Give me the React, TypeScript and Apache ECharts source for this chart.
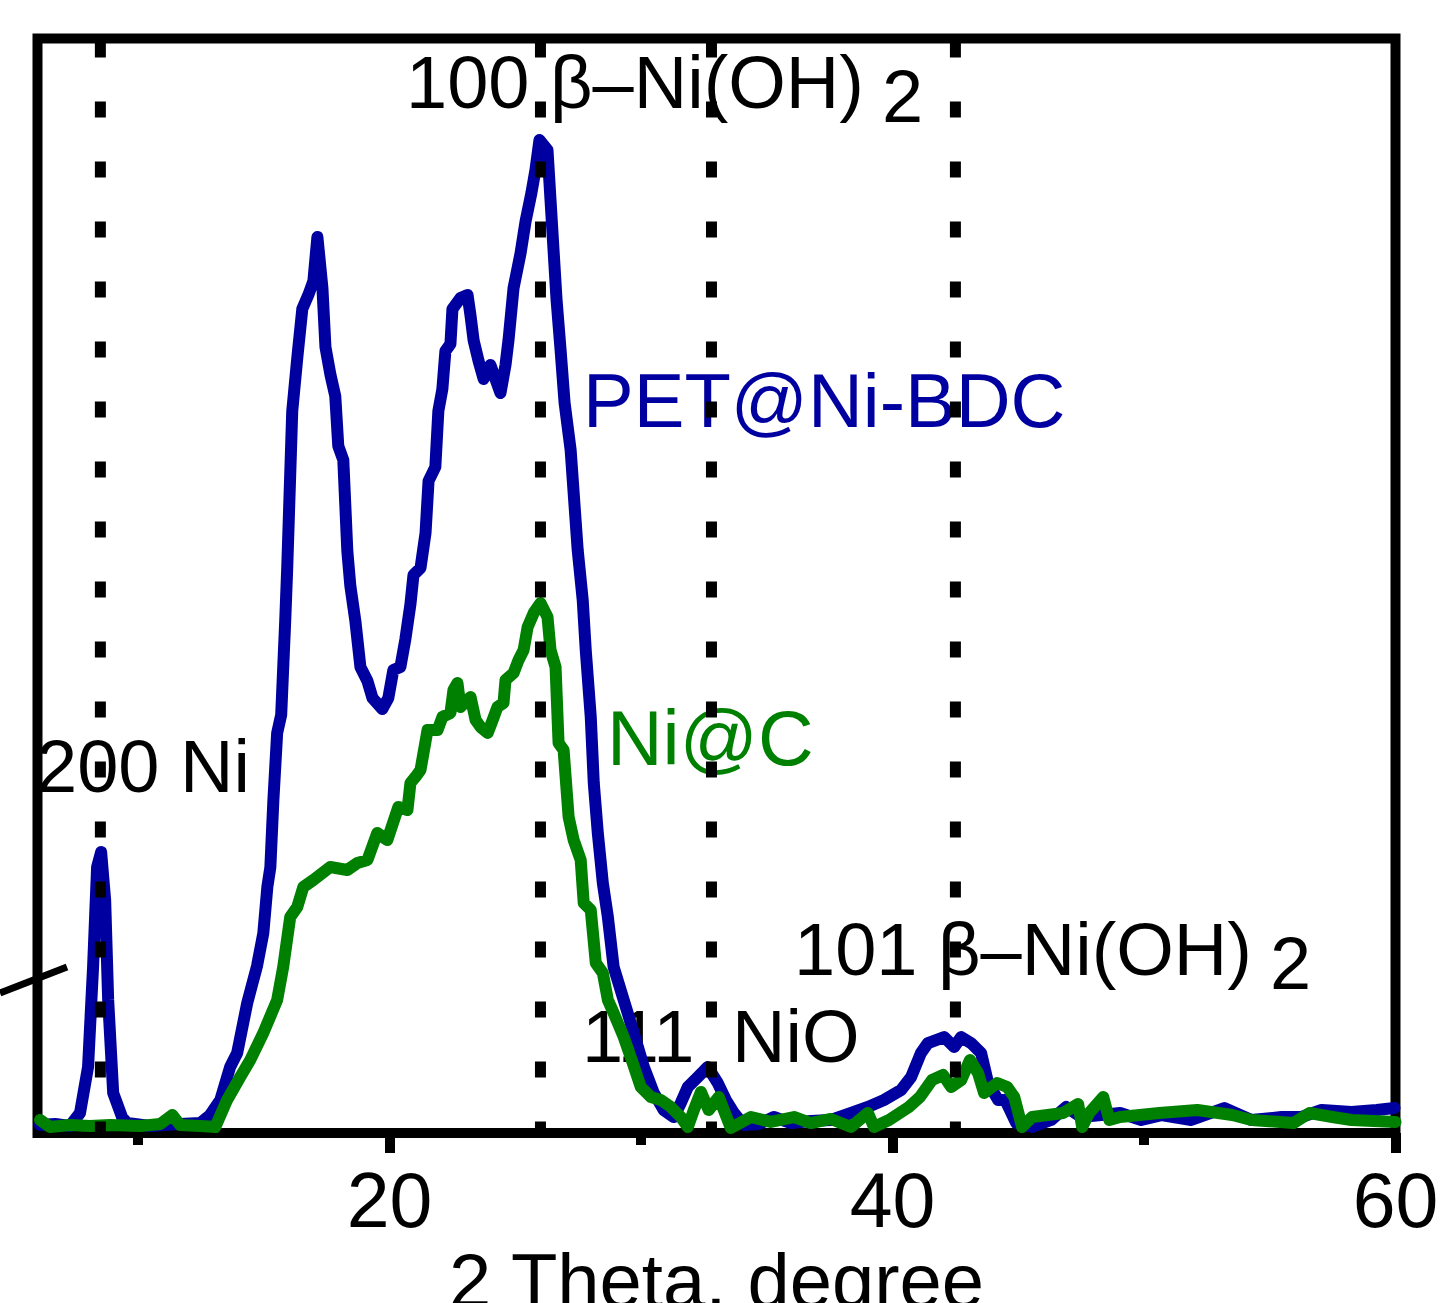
import React, { useEffect, useRef } from "react";
import * as echarts from "echarts";

// ---- data ----
const petTheta = [
  6.10, 6.70, 7.29, 7.69, 8.01, 8.21, 8.37, 8.53, 8.69, 8.81, 9.01, 9.36, 9.56, 10.48, 11.67,
  12.47, 12.86, 13.27, 13.66, 13.94, 14.34, 14.73, 14.98, 15.14, 15.26, 15.38, 15.53, 15.69,
  15.85, 15.93, 16.13, 16.33, 16.53, 16.77, 16.97, 17.13, 17.33, 17.45, 17.65, 17.84, 17.96,
  18.16, 18.32, 18.44, 18.64, 18.84, 19.12, 19.32, 19.71, 19.95, 20.15, 20.43, 20.63, 20.83,
  20.95, 21.23, 21.43, 21.55, 21.82, 21.94, 22.10, 22.22, 22.42, 22.50, 22.82, 23.10, 23.22,
  23.34, 23.54, 23.74, 24.01, 24.21, 24.41, 24.61, 24.73, 24.93, 25.21, 25.41, 25.64, 25.80,
  25.96, 26.12, 26.28, 26.40, 26.64, 26.80, 26.96, 27.20, 27.48, 27.68, 27.80, 28.00, 28.12,
  28.28, 28.48, 28.68, 28.91, 29.31, 29.71, 30.11, 30.51, 30.90, 31.30, 31.58, 31.86, 32.26,
  32.65, 33.05, 33.37, 33.69, 34.09, 34.68, 35.28, 35.96, 36.75, 37.55, 38.35, 39.02, 39.66,
  40.34, 40.74, 41.13, 41.41, 42.05, 42.45, 42.73, 43.12, 43.52, 43.80, 44.20, 44.48, 44.92,
  45.55, 46.31, 46.90, 47.50, 48.30, 49.05, 49.89, 50.69, 51.88, 53.19, 54.27, 55.47, 56.26,
  57.06, 58.25, 59.25, 59.96,
];
const petIntensity = [
  0.73, 0.82, 0.64, 1.83, 6.03, 15.17, 24.30, 25.67, 21.29, 12.15, 3.65, 1.46, 0.91, 0.64, 0.82,
  0.91, 1.64, 3.02, 6.03, 7.31, 11.88, 15.26, 18.27, 22.48, 24.30, 30.42, 36.55, 38.20,
  46.78, 51.62, 65.97, 70.81, 75.29, 76.57, 77.84, 81.86, 77.20, 71.81, 69.26, 67.34, 62.77,
  61.49, 53.18, 49.98, 46.78, 42.58, 41.30, 39.74, 38.74, 39.74, 42.30, 42.58, 45.14, 48.33,
  50.98, 51.62, 54.82, 59.57, 60.85, 65.97, 67.98, 71.45, 72.09, 75.29, 76.29, 76.57, 74.65,
  72.45, 70.53, 68.89, 70.17, 68.89, 67.61, 70.17, 72.45, 77.20, 80.40, 83.33, 85.88, 87.99,
  90.73, 90.27, 89.81, 85.24, 76.11, 71.54, 66.70, 62.40, 53.27, 48.70, 44.13, 38.01, 31.98,
  27.41, 22.84, 19.74, 15.17, 12.15, 9.14, 6.03, 3.65, 2.10, 1.46, 2.74, 4.20, 5.12,
  6.03, 4.57, 3.02, 1.83, 0.73, 0.82, 1.46, 0.91, 1.10, 1.19, 1.83, 2.38, 3.02,
  3.93, 5.12, 7.31, 8.22, 8.77, 7.86, 8.77, 8.22, 7.31, 4.57, 3.02, 3.02, 0.91,
  0.55, 1.19, 2.38, 1.46, 1.64, 1.83, 1.19, 1.64, 1.19, 2.28, 1.19, 1.46, 1.46,
  2.10, 1.92, 2.10, 2.28,
];

const nicTheta = [
  6.10, 6.49, 7.29, 8.09, 8.89, 10.08, 10.88, 11.36, 11.67, 12.47, 13.07, 13.54, 14.06, 14.46,
  14.98, 15.53, 15.77, 16.05, 16.33, 16.57, 16.97, 17.64, 18.32, 18.72, 19.12, 19.51, 19.91,
  20.35, 20.71, 20.83, 21.03, 21.23, 21.51, 21.91, 22.10, 22.42, 22.54, 22.70, 22.82, 23.22,
  23.42, 23.62, 23.90, 24.10, 24.29, 24.53, 24.61, 24.93, 25.13, 25.33, 25.49, 25.73, 26.00,
  26.28, 26.40, 26.60, 26.72, 26.92, 27.12, 27.32, 27.60, 27.72, 28.00, 28.20, 28.48, 28.68,
  28.91, 29.31, 29.67, 29.99, 30.39, 30.78, 31.18, 31.58, 31.86, 32.10, 32.38, 32.69, 33.09,
  33.57, 34.37, 35.16, 36.08, 36.75, 37.55, 38.35, 39.02, 39.26, 39.86, 40.65, 41.09, 41.57,
  42.01, 42.33, 42.73, 43.08, 43.40, 43.64, 44.16, 44.56, 44.84, 45.15, 45.55, 46.79, 47.38,
  47.54, 47.82, 48.38, 48.62, 49.05, 50.61, 52.12, 53.51, 54.27, 55.94, 56.58, 57.49, 58.25,
  60.00,
];
const nicIntensity = [
  1.19, 0.55, 0.73, 0.64, 0.73, 0.64, 0.82, 1.64, 0.73, 0.64, 0.55, 3.02, 5.12, 6.67,
  9.14, 12.15, 15.17, 19.74, 20.65, 22.48, 23.12, 24.30, 24.03, 24.67, 24.94, 27.41, 26.77,
  29.79, 29.51, 31.98, 32.53, 33.17, 36.82, 36.82, 38.01, 38.37, 40.47, 41.11, 38.92, 39.84,
  37.73, 37.09, 36.55, 37.73, 38.92, 39.29, 41.39, 42.03, 43.22, 44.13, 46.23, 47.51, 48.42,
  47.14, 44.13, 42.58, 35.63, 34.99, 28.87, 26.77, 24.94, 21.01, 20.37, 15.53, 14.62, 12.15,
  10.96, 8.77, 6.40, 4.20, 3.29, 3.02, 2.38, 1.46, 0.55, 2.10, 3.75, 2.10, 3.29,
  0.46, 1.46, 1.01, 1.46, 0.91, 1.28, 0.55, 1.83, 0.55, 1.19, 2.38, 3.29, 4.84,
  5.30, 4.20, 4.84, 6.67, 5.48, 3.65, 4.57, 4.20, 3.29, 0.55, 1.46, 1.83, 2.65,
  0.55, 1.83, 3.29, 1.19, 1.46, 1.83, 2.10, 1.64, 1.19, 0.91, 1.83, 1.46, 1.19,
  1.01,
];

const referenceTheta = [8.5, 26.0, 32.8, 42.5];
const majorTickValues = [20, 40, 60];
const minorTickValues = [10, 30, 50];

const FONT = "'Liberation Sans', Arial, Helvetica, sans-serif";
const BLUE = "#0000A0";
const GREEN = "#008000";

function label(text: string, x: number, baseline: number, color: string, size = 74) {
  return {
    type: "text",
    x,
    y: baseline - 0.3465 * size,
    z: 1,
    silent: true,
    style: {
      text,
      fill: color,
      font: `${size}px ${FONT}`,
      fontSize: size,
      fontFamily: FONT,
      align: "left",
      verticalAlign: "middle",
      textAlign: "left",
      textVerticalAlign: "middle",
    },
  };
}

export default function App() {
  const ref = useRef<HTMLDivElement>(null);

  useEffect(() => {
    if (!ref.current) return;
    const chart = echarts.init(ref.current, null, { renderer: "svg" });

    const refSeries = referenceTheta.map((x) => ({
      type: "line",
      data: [
        [x, 100],
        [x, 0],
      ],
      symbol: "none",
      showSymbol: false,
      silent: true,
      z: 5,
      lineStyle: { color: "#000", width: 11, type: [16, 44], dashOffset: 56.5, cap: "butt" },
    }));

    const option: any = {
      animation: false,
      backgroundColor: "#fff",
      grid: {
        left: 37.5,
        top: 38.5,
        right: 49.5,
        bottom: 170,
        show: true,
        borderColor: "#000",
        borderWidth: 10,
        backgroundColor: "transparent",
        containLabel: false,
        outerBoundsMode: "none",
      },
      xAxis: [
        {
          type: "value",
          min: 6,
          max: 60,
          position: "bottom",
          axisLine: { show: false, onZero: false },
          splitLine: { show: false },
          axisTick: {
            show: true,
            customValues: majorTickValues,
            length: 20,
            lineStyle: { color: "#000", width: 10 },
          },
          axisLabel: {
            show: true,
            customValues: majorTickValues,
            margin: 28,
            color: "#000",
            fontSize: 77,
            fontFamily: FONT,
          },
          name: "2 Theta, degree",
          nameLocation: "middle",
          nameGap: 94,
          nameTextStyle: { color: "#000", fontSize: 76, fontFamily: FONT },
        },
        {
          type: "value",
          min: 6,
          max: 60,
          position: "bottom",
          offset: 0,
          axisLine: { show: false, onZero: false },
          splitLine: { show: false },
          axisTick: {
            show: true,
            customValues: minorTickValues,
            length: 12,
            lineStyle: { color: "#000", width: 10 },
          },
          axisLabel: { show: false },
        },
      ],
      yAxis: { type: "value", min: 0, max: 100, show: false },
      series: [
        {
          type: "line",
          name: "PET@Ni-BDC",
          data: petTheta.map((x, i) => [x, petIntensity[i]]),
          symbol: "none",
          showSymbol: false,
          silent: true,
          z: 2,
          lineStyle: { color: BLUE, width: 12, join: "round", cap: "round" },
        },
        {
          type: "line",
          name: "Ni@C",
          data: nicTheta.map((x, i) => [x, nicIntensity[i]]),
          symbol: "none",
          showSymbol: false,
          silent: true,
          z: 3,
          lineStyle: { color: GREEN, width: 12, join: "round", cap: "round" },
        },
        ...refSeries,
      ],
      graphic: [
        label("100 β–Ni(OH)", 406, 108, "#000"),
        label("2", 882, 122, "#000"),
        label("200 Ni", 36, 792, "#000"),
        label("PET@Ni-BDC", 583, 427, BLUE, 76),
        label("Ni@C", 607, 765, GREEN, 77),
        label("111", 582, 1062, "#000"),
        label("NiO", 732, 1062, "#000"),
        label("101 β–Ni(OH)", 794, 975, "#000"),
        label("2", 1270, 989, "#000"),
        {
          type: "line",
          silent: true,
          z: 1,
          shape: { x1: 0, y1: 993, x2: 67, y2: 967 },
          style: { stroke: "#000", lineWidth: 7 },
        },
      ],
    };

    chart.setOption(option);
    return () => chart.dispose();
  }, []);

  return (
    <div
      ref={ref}
      style={{ position: "absolute", left: 0, top: 0, width: 1445, height: 1303, background: "#fff" }}
    />
  );
}
